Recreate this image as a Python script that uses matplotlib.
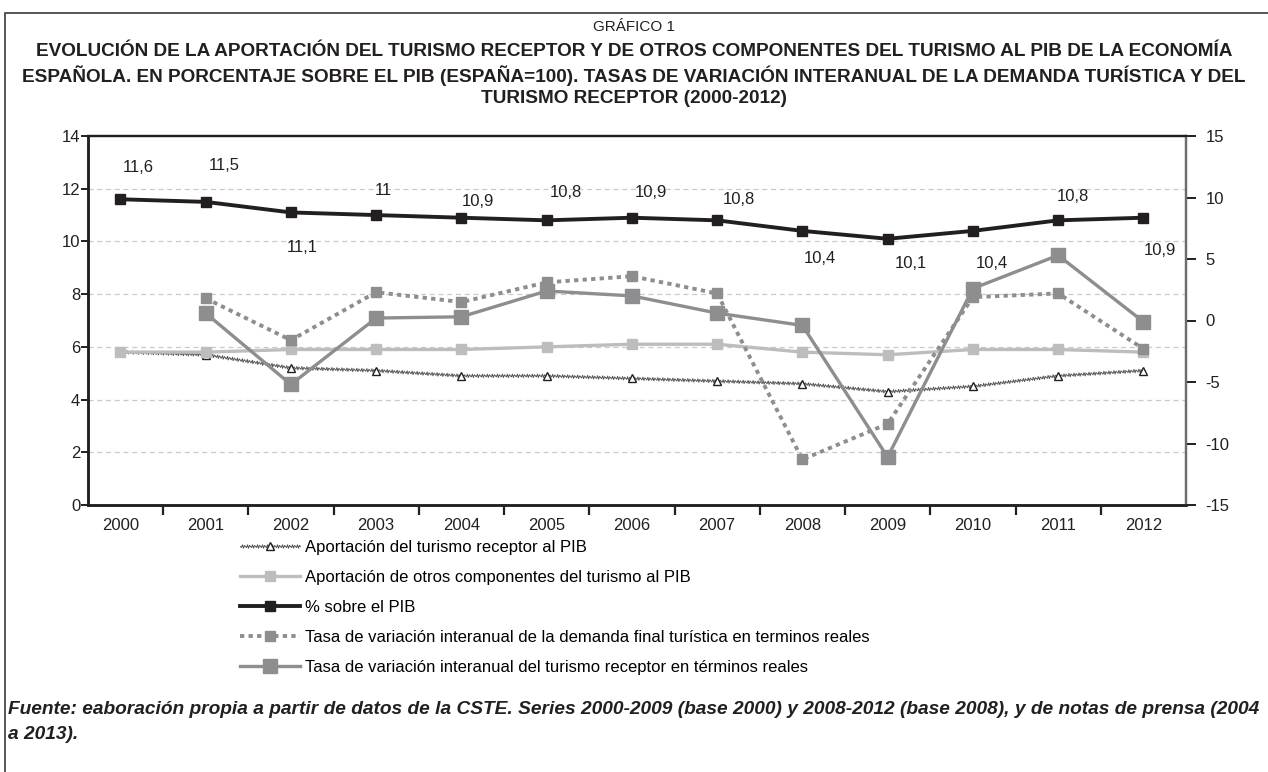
import matplotlib
matplotlib.use("Agg")
import matplotlib.pyplot as plt
from matplotlib.patches import Rectangle

plt.rcParams["font.family"] = ["Liberation Sans", "DejaVu Sans"]
plt.rcParams["axes.unicode_minus"] = False

# ---- data ----
years = ["2000", "2001", "2002", "2003", "2004", "2005", "2006",
         "2007", "2008", "2009", "2010", "2011", "2012"]
receptor_pib = [5.8, 5.7, 5.2, 5.1, 4.9, 4.9, 4.8, 4.7, 4.6, 4.3, 4.5, 4.9, 5.1]
otros_pib = [5.8, 5.8, 5.9, 5.9, 5.9, 6.0, 6.1, 6.1, 5.8, 5.7, 5.9, 5.9, 5.8]
total_pib = [11.6, 11.5, 11.1, 11.0, 10.9, 10.8, 10.9, 10.8, 10.4, 10.1, 10.4, 10.8, 10.9]
# tasas de variacion (eje derecho), sin dato en 2000
demanda_var = [None, 1.8, -1.6, 2.3, 1.5, 3.1, 3.6, 2.2, -11.3, -8.4, 1.9, 2.2, -2.3]
receptor_var = [None, 0.6, -5.2, 0.2, 0.3, 2.4, 2.0, 0.6, -0.4, -11.1, 2.6, 5.3, -0.1]

# where the data labels of the total sit (Excel moved them by hand)
label_y = [12.82, 12.89, 9.76, 11.94, 11.53, 11.86, 11.84, 11.58, 9.34, 9.18, 9.18, 11.71, 9.66]
label_dx = [0.21, 0.22, 0.13, 0.08, 0.19, 0.22, 0.22, 0.25, 0.2, 0.27, 0.22, 0.17, 0.2]

labels = [
    "Aportación del turismo receptor al PIB",
    "Aportación de otros componentes del turismo al PIB",
    "% sobre el PIB",
    "Tasa de variación interanual de la demanda final turística en terminos reales",
    "Tasa de variación interanual del turismo receptor en términos reales",
]

BLACK = "#231f20"
LIGHT = "#bdbdbd"
MID = "#8e8e90"
GRID = "#c9c9c9"

fig = plt.figure(figsize=(12.68, 7.72), dpi=100)
ax = fig.add_axes([88 / 1268, 1 - 505 / 772, 1098 / 1268, 369 / 772])
ax2 = ax.twinx()

x = list(range(len(years)))

l1, = ax.plot(x, receptor_pib, color="#555555", lw=0.7, marker="^", ms=5.5,
              mfc="white", mec=BLACK, mew=1.0, zorder=3)
l1.set_sketch_params(scale=1.8, length=2.5, randomness=1)
l2, = ax.plot(x, otros_pib, color=LIGHT, lw=2.4, marker="s", ms=6.5,
              mec=LIGHT, zorder=3)
l3, = ax.plot(x, total_pib, color=BLACK, lw=2.8, marker="s", ms=6.5,
              mec=BLACK, zorder=4)

dem = [(i, v) for i, v in enumerate(demanda_var) if v is not None]
rec = [(i, v) for i, v in enumerate(receptor_var) if v is not None]
l4, = ax2.plot([p[0] for p in dem], [p[1] for p in dem], color=MID, lw=2.8,
               ls=(0, (1.1, 1.1)), marker="s", ms=6.5, mec=MID, zorder=3)
l5, = ax2.plot([p[0] for p in rec], [p[1] for p in rec], color=MID, lw=2.4,
               marker="s", ms=10, mec=MID, zorder=4)

for i, v in enumerate(total_pib):
    ax.text(i + label_dx[i], label_y[i], f"{v:g}".replace(".", ","),
            ha="center", va="center", fontsize=12, color=BLACK)

# axes formatting
ax.set_xlim(-0.38, 12.5)
ax.set_ylim(0, 14)
ax.set_yticks(range(0, 15, 2))
ax.set_xticks([i + 0.5 for i in range(12)])
ax.set_xticklabels([])
ax.set_xticks(x, minor=True)
ax.set_xticklabels(years, minor=True)
ax.tick_params(axis="x", which="major", direction="out", length=7, width=1.6, color=BLACK)
ax.tick_params(axis="x", which="minor", length=0, pad=9, labelsize=12, labelcolor=BLACK)
ax.tick_params(axis="y", direction="out", length=5, width=1.4, color=BLACK,
               pad=0.5, labelsize=12, labelcolor=BLACK)
for g in range(2, 13, 2):
    ax.axhline(g, color=GRID, lw=0.9, ls=(0, (4, 3)), zorder=1)

ax2.set_ylim(-15, 15)
ax2.set_yticks(range(-15, 16, 5))
ax2.tick_params(axis="y", direction="out", length=7, width=1.4, color=BLACK,
                pad=7, labelsize=12, labelcolor=BLACK)

for a in (ax, ax2):
    a.spines["left"].set_color(BLACK)
    a.spines["bottom"].set_color(BLACK)
    a.spines["top"].set_color(BLACK)
    a.spines["right"].set_color("#6d6d6d")
    a.spines["left"].set_linewidth(1.8)
    a.spines["bottom"].set_linewidth(1.8)
    a.spines["top"].set_linewidth(1.6)
    a.spines["right"].set_linewidth(1.6)

# legend under the plot
fig.legend([l1, l2, l3, l4, l5], labels, loc="upper left",
           bbox_to_anchor=(233 / 1268, 1 - 533 / 772), frameon=False,
           fontsize=12, handlelength=3.6, handletextpad=0.3,
           labelspacing=0.9, borderaxespad=0)

# titles
fig.text(0.5, 1 - 27 / 772, "GRÁFICO 1", ha="center", va="center",
         fontsize=11, color=BLACK)
title = ("EVOLUCIÓN DE LA APORTACIÓN DEL TURISMO RECEPTOR Y DE OTROS COMPONENTES DEL TURISMO AL PIB DE LA ECONOMÍA\n"
         "ESPAÑOLA. EN PORCENTAJE SOBRE EL PIB (ESPAÑA=100). TASAS DE VARIACIÓN INTERANUAL DE LA DEMANDA TURÍSTICA Y DEL\n"
         "TURISMO RECEPTOR (2000-2012)")
fig.text(0.5, 1 - 75 / 772, title, ha="center", va="center", fontsize=13.7,
         fontweight="bold", color=BLACK, linespacing=1.3)

source = ("Fuente: eaboración propia a partir de datos de la CSTE. Series 2000-2009 (base 2000) y 2008-2012 "
          "(base 2008), y de notas de prensa (2004\na 2013).")
fig.text(8 / 1268, 1 - 722 / 772, source, ha="left", va="center", fontsize=13.8,
         fontweight="bold", style="italic", color=BLACK, linespacing=1.55)

# frame around the whole figure
fig.patches.append(Rectangle((5 / 1268, -0.05), 1.0, 1 - 13 / 772 + 0.05,
                             transform=fig.transFigure, fill=False,
                             edgecolor="#3a3a3a", lw=1.2))

fig.savefig("out.png", dpi=100)
